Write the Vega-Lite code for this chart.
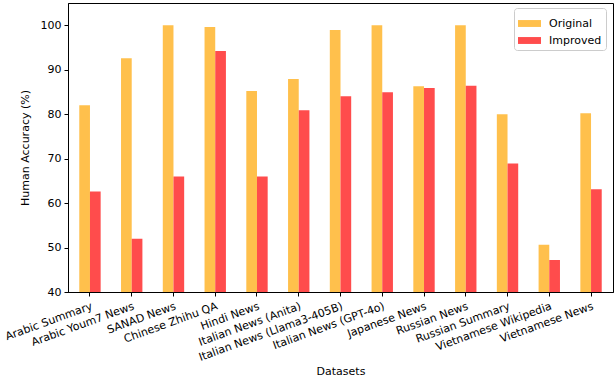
{
  "$schema": "https://vega.github.io/schema/vega-lite/v6.json",
  "autosize": "none",
  "width": 545,
  "height": 289,
  "padding": {"left": 68, "top": 3, "right": 1, "bottom": 86},
  "background": "white",
  "config": {
    "font": "DejaVu Sans",
    "view": {"stroke": "black", "strokeWidth": 1},
    "axis": {
      "domainColor": "black",
      "tickColor": "black",
      "labelColor": "black",
      "titleColor": "black",
      "labelFontSize": 11,
      "titleFontSize": 11,
      "titleFontWeight": "normal",
      "tickSize": 4,
      "labelPadding": 3,
      "grid": false
    }
  },
  "data": {
    "values": [
      {"dataset": "Arabic Summary", "series": "Original", "value": 82.0},
      {"dataset": "Arabic Summary", "series": "Improved", "value": 62.6},
      {"dataset": "Arabic Youm7 News", "series": "Original", "value": 92.6},
      {"dataset": "Arabic Youm7 News", "series": "Improved", "value": 52.0},
      {"dataset": "SANAD News", "series": "Original", "value": 100.0},
      {"dataset": "SANAD News", "series": "Improved", "value": 66.0},
      {"dataset": "Chinese Zhihu QA", "series": "Original", "value": 99.6},
      {"dataset": "Chinese Zhihu QA", "series": "Improved", "value": 94.2},
      {"dataset": "Hindi News", "series": "Original", "value": 85.2},
      {"dataset": "Hindi News", "series": "Improved", "value": 66.0},
      {"dataset": "Italian News (Anita)", "series": "Original", "value": 87.9},
      {"dataset": "Italian News (Anita)", "series": "Improved", "value": 80.9},
      {"dataset": "Italian News (Llama3-405B)", "series": "Original", "value": 98.9},
      {"dataset": "Italian News (Llama3-405B)", "series": "Improved", "value": 84.0},
      {"dataset": "Italian News (GPT-4o)", "series": "Original", "value": 100.0},
      {"dataset": "Italian News (GPT-4o)", "series": "Improved", "value": 84.9},
      {"dataset": "Japanese News", "series": "Original", "value": 86.3},
      {"dataset": "Japanese News", "series": "Improved", "value": 85.9},
      {"dataset": "Russian News", "series": "Original", "value": 100.0},
      {"dataset": "Russian News", "series": "Improved", "value": 86.4},
      {"dataset": "Russian Summary", "series": "Original", "value": 80.0},
      {"dataset": "Russian Summary", "series": "Improved", "value": 68.9},
      {"dataset": "Vietnamese Wikipedia", "series": "Original", "value": 50.6},
      {"dataset": "Vietnamese Wikipedia", "series": "Improved", "value": 47.2},
      {"dataset": "Vietnamese News", "series": "Original", "value": 80.2},
      {"dataset": "Vietnamese News", "series": "Improved", "value": 63.1}
    ]
  },
  "mark": {"type": "bar", "clip": true},
  "encoding": {
    "x": {
      "field": "dataset",
      "type": "nominal",
      "sort": null,
      "scale": {"paddingInner": 0.488, "paddingOuter": 0.27},
      "axis": {
        "title": "Datasets",
        "titleY": 79,
        "titleBaseline": "middle",
        "labelAngle": -20,
        "labelAlign": "right",
        "labelBaseline": "top",
        "labelPadding": 4
      }
    },
    "xOffset": {
      "field": "series",
      "type": "nominal",
      "sort": ["Original", "Improved"],
      "scale": {"paddingInner": 0, "paddingOuter": 0}
    },
    "y": {
      "field": "value",
      "type": "quantitative",
      "scale": {"domain": [40, 105], "nice": false, "zero": false},
      "axis": {
        "title": "Human Accuracy (%)",
        "values": [40, 50, 60, 70, 80, 90, 100],
        "titlePadding": 10
      }
    },
    "color": {
      "field": "series",
      "type": "nominal",
      "sort": ["Original", "Improved"],
      "scale": {"domain": ["Original", "Improved"], "range": ["#FFC04C", "#FF4C4C"]},
      "legend": {
        "title": null,
        "orient": "none",
        "legendX": 446,
        "legendY": 5,
        "symbolType": "M-1,-0.3L1,-0.3L1,0.3L-1,0.3Z",
        "symbolSize": 529,
        "symbolStrokeWidth": 0,
        "labelFontSize": 11,
        "labelColor": "black",
        "labelOffset": 8,
        "rowPadding": -7,
        "padding": 4,
        "strokeColor": "#cccccc",
        "fillColor": "white",
        "cornerRadius": 3
      }
    }
  }
}
